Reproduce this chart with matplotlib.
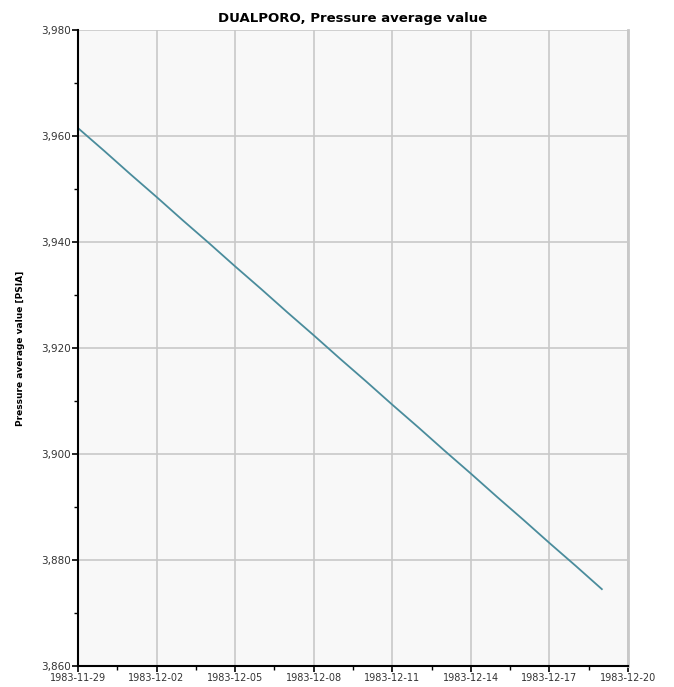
import numpy as np
import matplotlib
matplotlib.use("Agg")
import matplotlib.pyplot as plt
import matplotlib.dates as mdates
import matplotlib.ticker as mticker
from datetime import datetime, timedelta

# Daily pressure readings (PSIA)
start_date = datetime(1983, 11, 29)
pressure = [3961.5, 3957.2, 3952.8, 3948.5, 3944.1, 3939.8, 3935.4,
            3931.1, 3926.7, 3922.4, 3918.0, 3913.7, 3909.3, 3905.0,
            3900.6, 3896.3, 3891.9, 3887.6, 3883.2, 3878.9, 3874.5]
dates = [start_date + timedelta(days=i) for i in range(len(pressure))]

tick_dates = [datetime(1983, 11, 29), datetime(1983, 12, 2), datetime(1983, 12, 5),
              datetime(1983, 12, 8), datetime(1983, 12, 11), datetime(1983, 12, 14),
              datetime(1983, 12, 17), datetime(1983, 12, 20)]

fig = plt.figure(figsize=(6.74, 6.87), dpi=100)
ax = fig.add_axes([0.1157, 0.0306, 0.8161, 0.9257])
ax.set_facecolor('#f8f8f8')

ax.plot(dates, pressure, color='#4a8c9c', lw=1.3)

ax.set_xlim(tick_dates[0], tick_dates[-1])
ax.set_ylim(3860, 3980)
ax.xaxis.set_major_locator(mticker.FixedLocator(mdates.date2num(tick_dates)))
ax.xaxis.set_major_formatter(mdates.DateFormatter('%Y-%m-%d'))
ax.xaxis.set_minor_locator(mticker.AutoMinorLocator(2))
ax.yaxis.set_major_locator(mticker.MultipleLocator(20))
ax.yaxis.set_minor_locator(mticker.MultipleLocator(10))
ax.yaxis.set_major_formatter(mticker.FuncFormatter(lambda v, p: f'{v:,.0f}'))

ax.grid(True, which='major', color='#c8c8c8', lw=1.2)
ax.set_axisbelow(True)

for s in ['left', 'bottom']:
    ax.spines[s].set_color('black')
    ax.spines[s].set_linewidth(1.5)
ax.spines['right'].set_color('#c8c8c8')
ax.spines['right'].set_linewidth(2)
ax.spines['top'].set_visible(False)

ax.tick_params(which='major', length=4, width=1.2, colors='black',
               labelcolor='#333333', pad=1)
ax.tick_params(axis='x', labelsize=7)
ax.tick_params(axis='y', labelsize=7.5)
ax.tick_params(which='minor', length=3, width=1)

ax.set_title('DUALPORO, Pressure average value', fontsize=9.5, fontweight='bold',
             family='DejaVu Sans', fontstretch='normal', pad=6)
ax.set_ylabel('Pressure average value [PSIA]', fontsize=6.5, fontweight='bold',
              family=['Liberation Sans Narrow', 'DejaVu Sans'], labelpad=12)

fig.savefig('out.png', dpi=100)
